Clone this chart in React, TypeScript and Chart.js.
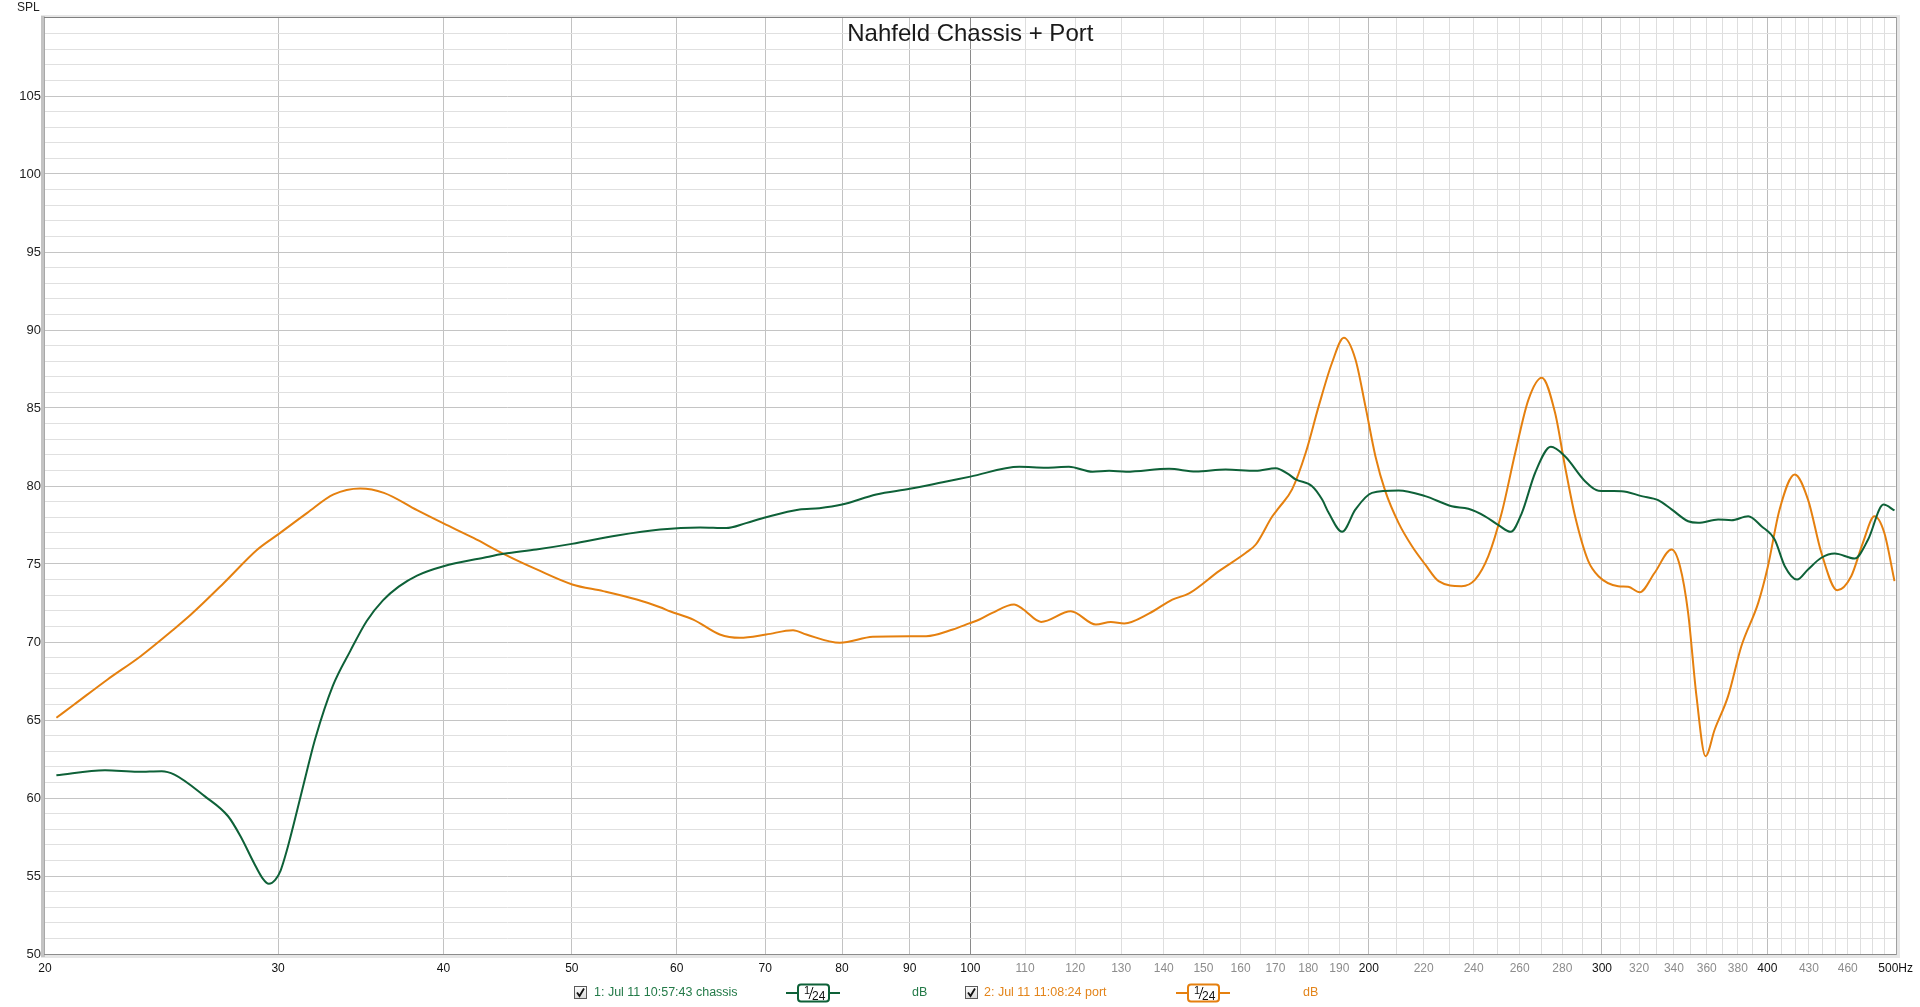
import React, { useEffect, useRef } from 'react';
import { Chart, registerables } from 'chart.js';

Chart.register(...registerables);

// ---- Data ----
const TITLE = 'Nahfeld Chassis + Port';
const Y_TITLE = 'SPL';

const chassisFreq = [
  20.4, 22.2, 23.5, 24.5, 25.05, 26.4, 27.5, 28.1, 28.76, 29.2, 29.52, 29.85, 30.13, 30.45, 30.84, 31.56,
  32, 33, 34, 35, 36, 37, 38.2, 40.0, 42.9, 44.4, 47.0, 50.0, 54.1, 58.3, 62.5, 65.4, 67.7, 70.1, 74.3,
  76.9, 80.0, 84.9, 90.0, 95.3, 100, 108.9, 114.1, 118.7, 123.7, 127.3, 131.1, 141.3, 148.0, 155.9,
  164.3, 170.1, 174, 176.1, 181.2, 184.4, 186.5, 190.9, 195.4, 201.1, 210.6, 220.6, 231, 237.8, 244.8,
  250.6, 256, 261, 267.1, 274.5, 281.3, 291.3, 298.2, 310.4, 321.4, 330.8, 338.6, 348.5, 354.6, 367.2,
  375.8, 386.9, 395.9, 405.1, 412.3, 421.2, 429.3, 439.4, 449.7, 465.6, 476.6, 489.5, 499,
];
const chassisDb = [
  61.46, 61.78, 61.68, 61.72, 61.5, 60.12, 58.83, 57.55, 55.85, 54.85, 54.5, 54.75, 55.35, 56.6, 58.4, 61.83,
  63.8, 67.2, 69.4, 71.35, 72.67, 73.55, 74.26, 74.86, 75.4, 75.65, 75.93, 76.29, 76.83, 77.21, 77.34, 77.3, 77.62, 78.0, 78.5,
  78.58, 78.81, 79.46, 79.82, 80.24, 80.6, 81.23, 81.17, 81.23, 80.91, 80.97, 80.91, 81.1, 80.93, 81.06,
  80.97, 81.14, 80.74, 80.42, 79.99, 79.13, 78.28, 77.06, 78.5, 79.56, 79.71, 79.35, 78.7, 78.54, 78.06,
  77.49, 77.06, 78.28, 80.85, 82.51, 81.91, 80.31, 79.7, 79.67, 79.35, 79.09, 78.5, 77.74, 77.64, 77.85,
  77.81, 78.06, 77.42, 76.57, 74.86, 74.0, 74.65, 75.4, 75.67, 75.35, 76.57, 78.81, 78.43,
];

const portFreq = [
  20.4, 21.04, 22.3, 23.62, 25.05, 25.78, 27.31, 28.94, 30.0, 31.56, 33.04, 34.6, 36.06, 38.2, 40.0,
  42.14, 44.4, 47.04, 50.04, 52.8, 55.98, 58.3, 59.3, 61.76, 64.68, 66.98, 70.1, 73.46, 75.18, 79.7,
  84.4, 89.96, 92.6, 97.0, 99.8, 101.6, 103.9, 107.9, 109.5, 113.1, 119.1, 124.4, 127.7, 130.7, 136.5,
  142.1, 146.3, 154.1, 161.5, 164.3, 169.1, 171, 175, 179.2, 183.3, 187.6, 191.5, 195.4, 198.8, 202.3,
  205.8, 210.6, 215.6, 220.6, 225.8, 235.0, 240.6, 246.2, 252.0, 258.0, 264.0, 270.2, 276.5, 281.3,
  286.3, 292.9, 298.2, 308.6, 314.0, 320.4, 328.8, 338.6, 343.6, 348.5, 353.6, 359.2, 365.0, 373.6,
  382.3, 393.7, 400.4, 408.6, 419.5, 429.3, 439.4, 451.7, 462.8, 472.3, 481.9, 490.2, 499,
];
const portDb = [
  65.14, 65.99, 67.6, 69.09, 70.85, 71.76, 73.8, 75.93, 76.9, 78.28, 79.46, 79.84, 79.56, 78.45, 77.6,
  76.67, 75.65, 74.65, 73.69, 73.26, 72.72, 72.23, 71.97, 71.44, 70.48, 70.27, 70.48, 70.76, 70.48, 69.95,
  70.33, 70.37, 70.37, 70.8, 71.19, 71.44, 71.87, 72.4, 72.13, 71.29, 71.97, 71.12, 71.29, 71.19, 71.83,
  72.72, 73.11, 74.54, 75.72, 76.25, 78.06, 78.6, 79.78, 82.13, 85.12, 87.9, 89.5, 88.11, 85.12, 81.91,
  79.67, 77.64, 76.14, 74.97, 73.9, 73.58, 74.0, 75.5, 78.28, 82.13, 85.54, 86.94, 84.69, 81.27,
  78.06, 75.2, 74.22, 73.58, 73.54, 73.19, 74.44, 75.93, 74.86, 71.87, 66.53, 62.68, 64.39, 66.53,
  69.73, 72.51, 74.86, 78.5, 80.74, 79.13, 75.72, 73.32, 74.22, 76.36, 78.06, 77.0, 73.9,
];

// Axis tick definitions
const xGridValues = [
  20, 30, 40, 50, 60, 70, 80, 90, 100, 110, 120, 130, 140, 150, 160, 170, 180, 190, 200,
  210, 220, 230, 240, 250, 260, 270, 280, 290, 300, 310, 320, 330, 340, 350, 360, 370, 380, 390, 400,
  410, 420, 430, 440, 450, 460, 470, 480, 490, 500,
];
const xLabelValues = [
  20, 30, 40, 50, 60, 70, 80, 90, 100, 110, 120, 130, 140, 150, 160, 170, 180, 190, 200,
  220, 240, 260, 280, 300, 320, 340, 360, 380, 400, 430, 460, 500,
];
const xMajorValues = [20, 30, 40, 50, 60, 70, 80, 90, 100, 200, 300, 400, 500];
const yLabelValues = [50, 55, 60, 65, 70, 75, 80, 85, 90, 95, 100, 105];
const Y_MIN = 50;
const Y_MAX = 110;
const X_MIN = 20;
const X_MAX = 500;

const legendItems = [
  { label: '1: Jul 11 10:57:43 chassis', smoothing: '1/24', unit: 'dB' },
  { label: '2: Jul 11 11:08:24 port', smoothing: '1/24', unit: 'dB' },
];

const GREEN = '#0e6138';
const ORANGE = '#e5800f';
const GREEN_TEXT = '#237a48';
const ORANGE_TEXT = '#e3841a';
const FONT = '"Liberation Sans", Arial, sans-serif';

function drawCheckbox(ctx: CanvasRenderingContext2D, x: number, y: number) {
  const g = ctx.createLinearGradient(x, y, x, y + 13);
  g.addColorStop(0, '#ffffff');
  g.addColorStop(1, '#d8d8d8');
  ctx.fillStyle = g;
  ctx.fillRect(x, y, 13, 13);
  ctx.strokeStyle = '#5a5a5a';
  ctx.lineWidth = 1;
  ctx.strokeRect(x + 0.5, y + 0.5, 12, 12);
  ctx.strokeStyle = '#111';
  ctx.lineWidth = 1.8;
  ctx.beginPath();
  ctx.moveTo(x + 3, y + 6.5);
  ctx.lineTo(x + 5.5, y + 10);
  ctx.lineTo(x + 10, y + 2.5);
  ctx.stroke();
}

function drawSmoothIcon(ctx: CanvasRenderingContext2D, x1: number, x2: number, bx: number, cy: number, color: string) {
  ctx.strokeStyle = color;
  ctx.lineWidth = 2;
  ctx.beginPath();
  ctx.moveTo(x1, cy);
  ctx.lineTo(x2, cy);
  ctx.stroke();
  const w = 31, h = 17, r = 3;
  const top = cy - 8.5;
  ctx.fillStyle = '#ffffff';
  ctx.beginPath();
  ctx.moveTo(bx + r, top);
  ctx.lineTo(bx + w - r, top);
  ctx.quadraticCurveTo(bx + w, top, bx + w, top + r);
  ctx.lineTo(bx + w, top + h - r);
  ctx.quadraticCurveTo(bx + w, top + h, bx + w - r, top + h);
  ctx.lineTo(bx + r, top + h);
  ctx.quadraticCurveTo(bx, top + h, bx, top + h - r);
  ctx.lineTo(bx, top + r);
  ctx.quadraticCurveTo(bx, top, bx + r, top);
  ctx.closePath();
  ctx.fill();
  ctx.stroke();
  ctx.fillStyle = '#111';
  ctx.textAlign = 'left';
  ctx.textBaseline = 'alphabetic';
  ctx.font = `11px ${FONT}`;
  ctx.fillText('1', bx + 6, cy + 1);
  ctx.strokeStyle = '#111';
  ctx.lineWidth = 1;
  ctx.beginPath();
  ctx.moveTo(bx + 11, cy + 6);
  ctx.lineTo(bx + 15, cy - 6);
  ctx.stroke();
  ctx.font = `12px ${FONT}`;
  ctx.fillText('24', bx + 14, cy + 7);
}

const decorPlugin = {
  id: 'decor',
  beforeDraw(chart: any) {
    const ctx = chart.ctx as CanvasRenderingContext2D;
    ctx.save();
    ctx.fillStyle = '#ffffff';
    ctx.fillRect(0, 0, chart.width, chart.height);
    ctx.restore();
  },
  beforeDatasetsDraw(chart: any) {
    const ctx = chart.ctx as CanvasRenderingContext2D;
    const a = chart.chartArea;
    const L = Math.round(a.left), R = Math.round(a.right), T = Math.round(a.top), B = Math.round(a.bottom);
    ctx.save();
    // shadows
    ctx.fillStyle = '#e6e6e6';
    ctx.fillRect(L - 4, T - 3, R - L + 8, 3);
    ctx.fillRect(R + 1, T - 3, 3, B - T + 7);
    ctx.fillRect(L - 4, B + 1, R - L + 8, 3);
    // left thick bar
    ctx.fillStyle = '#c4c4c4';
    ctx.fillRect(L - 4, T - 2, 4, B - T + 5);
    ctx.fillStyle = '#a8a8a8';
    ctx.fillRect(L - 1, T, 1, B - T + 1);
    // frame lines
    ctx.fillStyle = '#808080';
    ctx.fillRect(L - 1, T - 1, R - L + 2, 1);
    ctx.fillStyle = '#8c8c8c';
    ctx.fillRect(L - 1, B, R - L + 2, 1);
    ctx.fillStyle = '#a0a0a0';
    ctx.fillRect(R, T - 1, 1, B - T + 2);
    ctx.restore();
  },
  afterDraw(chart: any) {
    const ctx = chart.ctx as CanvasRenderingContext2D;
    const a = chart.chartArea;
    ctx.save();
    // title
    ctx.fillStyle = '#1a1a1a';
    ctx.font = `24px ${FONT}`;
    ctx.textAlign = 'center';
    ctx.textBaseline = 'middle';
    ctx.fillText(TITLE, (a.left + a.right) / 2, 34);
    // y axis title
    ctx.font = `12px ${FONT}`;
    ctx.textAlign = 'left';
    ctx.fillStyle = '#222';
    ctx.fillText(Y_TITLE, 17, 8);

    // legend
    const cy = 993;
    const pos = [
      { cb: 574, text: 594, l1: 786, l2: 840, box: 798, unit: 912, color: GREEN, tcolor: GREEN_TEXT },
      { cb: 965, text: 984, l1: 1176, l2: 1230, box: 1188, unit: 1303, color: ORANGE, tcolor: ORANGE_TEXT },
    ];
    legendItems.forEach((item, i) => {
      const p = pos[i];
      drawCheckbox(ctx, p.cb, cy - 7);
      ctx.font = `12.5px ${FONT}`;
      ctx.textAlign = 'left';
      ctx.textBaseline = 'middle';
      ctx.fillStyle = p.tcolor;
      ctx.fillText(item.label, p.text, cy);
      drawSmoothIcon(ctx, p.l1, p.l2, p.box, cy, p.color);
      ctx.font = `12.5px ${FONT}`;
      ctx.textBaseline = 'middle';
      ctx.fillStyle = p.tcolor;
      ctx.fillText(item.unit, p.unit, cy);
    });
    ctx.restore();
  },
};

export default function App() {
  const canvasRef = useRef<HTMLCanvasElement | null>(null);

  useEffect(() => {
    const canvas = canvasRef.current;
    if (!canvas) return;
    Chart.defaults.font.family = FONT;

    const chart = new Chart(canvas, {
      type: 'line',
      data: {
        datasets: [
          {
            label: legendItems[0].label,
            data: chassisFreq.map((f, i) => ({ x: f, y: chassisDb[i] })),
            borderColor: GREEN,
            backgroundColor: GREEN,
            borderWidth: 2,
            pointRadius: 0,
            cubicInterpolationMode: 'monotone',
            fill: false,
          },
          {
            label: legendItems[1].label,
            data: portFreq.map((f, i) => ({ x: f, y: portDb[i] })),
            borderColor: ORANGE,
            backgroundColor: ORANGE,
            borderWidth: 2,
            pointRadius: 0,
            cubicInterpolationMode: 'monotone',
            fill: false,
          },
        ],
      },
      options: {
        responsive: false,
        animation: false,
        events: [],
        layout: { padding: { left: 1, top: 18, right: 21, bottom: 0 } },
        plugins: {
          legend: { display: false },
          title: { display: false },
          tooltip: { enabled: false },
        },
        scales: {
          x: {
            type: 'logarithmic',
            min: X_MIN,
            max: X_MAX,
            bounds: 'data',
            afterBuildTicks: (scale: any) => {
              scale.ticks = xGridValues.map((v) => ({ value: v }));
            },
            afterFit: (scale: any) => {
              scale.height = 53;
            },
            border: { display: false },
            grid: {
              drawTicks: false,
              lineWidth: 1,
              color: (c: any) => {
                const v = c.tick ? c.tick.value : 0;
                if (v === X_MIN || v === X_MAX) return 'rgba(0,0,0,0)';
                if (v === 100) return '#8a8a8a';
                if (v < 100) return '#c2c2c2';
                if (v === 200 || v === 300 || v === 400) return '#bcbcbc';
                return '#dedede';
              },
            },
            ticks: {
              autoSkip: false,
              maxRotation: 0,
              minRotation: 0,
              padding: 7,
              font: { size: 12 },
              color: (c: any) => {
                const v = c.tick ? c.tick.value : 0;
                return xMajorValues.includes(v) ? '#111111' : '#8c8c8c';
              },
              callback: (value: any) => {
                const v = Number(value);
                if (!xLabelValues.includes(v)) return '';
                return v === X_MAX ? `${v}Hz` : `${v}`;
              },
            },
          },
          y: {
            type: 'linear',
            min: Y_MIN,
            max: Y_MAX,
            afterBuildTicks: (scale: any) => {
              const t: { value: number }[] = [];
              for (let v = Y_MIN; v <= Y_MAX; v += 1) t.push({ value: v });
              scale.ticks = t;
            },
            afterFit: (scale: any) => {
              scale.width = 44;
            },
            border: { display: false },
            grid: {
              drawTicks: false,
              lineWidth: 1,
              color: (c: any) => {
                const v = c.tick ? c.tick.value : 0;
                if (v === Y_MIN || v === Y_MAX) return 'rgba(0,0,0,0)';
                return v % 5 === 0 ? '#c4c4c4' : '#e0e0e0';
              },
            },
            ticks: {
              autoSkip: false,
              padding: 4,
              font: { size: 13 },
              color: '#222222',
              callback: (value: any) => {
                const v = Number(value);
                return yLabelValues.includes(v) ? `${v}` : '';
              },
            },
          },
        },
      },
      plugins: [decorPlugin],
    } as any);

    return () => {
      chart.destroy();
    };
  }, []);

  return (
    <div style={{ position: 'absolute', left: 0, top: 0, width: 1920, height: 1007, background: '#fff' }}>
      <canvas ref={canvasRef} width={1920} height={1007} style={{ display: 'block', width: 1920, height: 1007 }} />
    </div>
  );
}
